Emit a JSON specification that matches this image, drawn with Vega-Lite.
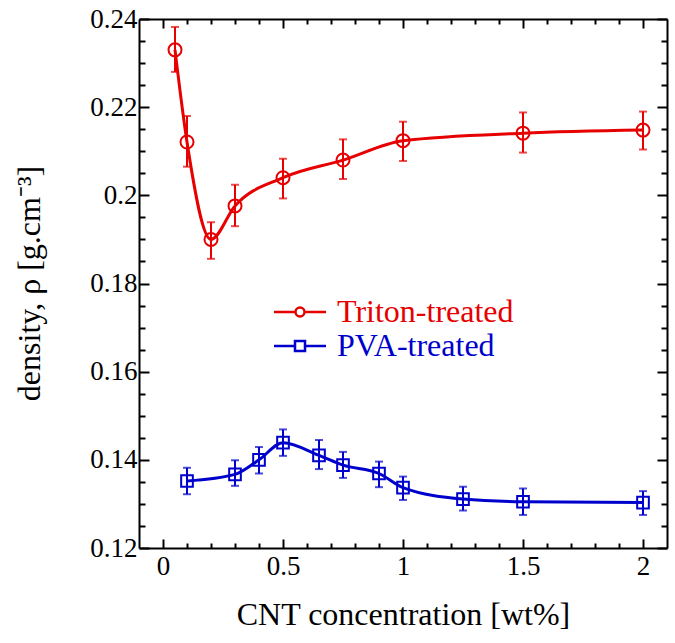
{
  "$schema": "https://vega.github.io/schema/vega-lite/v6.json",
  "width": 528,
  "height": 529,
  "autosize": "none",
  "padding": {"left": 139, "top": 19, "right": 8, "bottom": 95},
  "background": "white",
  "config": {
    "view": {"stroke": null},
    "font": "Liberation Serif",
    "axis": {
      "grid": false,
      "domainColor": "black",
      "domainWidth": 2,
      "tickColor": "black",
      "tickWidth": 2,
      "labelColor": "black",
      "labelFont": "Liberation Serif",
      "labelFontSize": 27,
      "labelFlush": false,
      "labelOverlap": false,
      "titleFont": "Liberation Serif",
      "titleFontSize": 32,
      "titleFontWeight": "normal",
      "titleColor": "black"
    },
    "legend": {"labelFont": "Liberation Serif"}
  },
  "datasets": {
    "pts": [
      {"series": "Triton-treated", "x": 0.05, "y": 0.2330, "lo": 0.2280, "hi": 0.2382},
      {"series": "Triton-treated", "x": 0.1, "y": 0.2121, "lo": 0.2065, "hi": 0.2180},
      {"series": "Triton-treated", "x": 0.2, "y": 0.1900, "lo": 0.1856, "hi": 0.1939},
      {"series": "Triton-treated", "x": 0.3, "y": 0.1976, "lo": 0.1930, "hi": 0.2024},
      {"series": "Triton-treated", "x": 0.5, "y": 0.2040, "lo": 0.1993, "hi": 0.2083},
      {"series": "Triton-treated", "x": 0.75, "y": 0.2080, "lo": 0.2037, "hi": 0.2127},
      {"series": "Triton-treated", "x": 1.0, "y": 0.2124, "lo": 0.2078, "hi": 0.2167},
      {"series": "Triton-treated", "x": 1.5, "y": 0.2141, "lo": 0.2097, "hi": 0.2188},
      {"series": "Triton-treated", "x": 2.0, "y": 0.2148, "lo": 0.2104, "hi": 0.2190},
      {"series": "PVA-treated", "x": 0.1, "y": 0.1352, "lo": 0.1322, "hi": 0.1382},
      {"series": "PVA-treated", "x": 0.3, "y": 0.1367, "lo": 0.1341, "hi": 0.1399},
      {"series": "PVA-treated", "x": 0.4, "y": 0.1400, "lo": 0.1369, "hi": 0.1429},
      {"series": "PVA-treated", "x": 0.5, "y": 0.1439, "lo": 0.1409, "hi": 0.1469},
      {"series": "PVA-treated", "x": 0.65, "y": 0.1410, "lo": 0.1379, "hi": 0.1445},
      {"series": "PVA-treated", "x": 0.75, "y": 0.1388, "lo": 0.1359, "hi": 0.1418},
      {"series": "PVA-treated", "x": 0.9, "y": 0.1369, "lo": 0.1338, "hi": 0.1396},
      {"series": "PVA-treated", "x": 1.0, "y": 0.1337, "lo": 0.1309, "hi": 0.1362},
      {"series": "PVA-treated", "x": 1.25, "y": 0.1311, "lo": 0.1285, "hi": 0.1339},
      {"series": "PVA-treated", "x": 1.5, "y": 0.1305, "lo": 0.1275, "hi": 0.1335},
      {"series": "PVA-treated", "x": 2.0, "y": 0.1303, "lo": 0.1275, "hi": 0.1329}
    ]
  },
  "data": {"name": "pts"},
  "resolve": {"axis": {"x": "independent", "y": "independent"}},
  "layer": [
    {
      "mark": {"type": "line", "interpolate": "monotone", "strokeWidth": 3},
      "encoding": {
        "x": {
          "field": "x", "type": "quantitative",
          "scale": {"domain": [-0.1, 2.1], "nice": false, "zero": false},
          "axis": {
            "orient": "bottom",
            "values": [0, 0.1, 0.2, 0.3, 0.4, 0.5, 0.6, 0.7, 0.8, 0.9, 1, 1.1, 1.2, 1.3, 1.4, 1.5, 1.6, 1.7, 1.8, 1.9, 2],
            "labelExpr": "abs(datum.value*2 - round(datum.value*2)) < 0.001 ? format(datum.value, '~g') : ''",
            "labelFont": "Liberation Serif",
            "tickSize": {"condition": {"test": "abs(datum.value*2 - round(datum.value*2)) < 0.001", "value": -9}, "value": -5},
            "labelPadding": 14,
            "title": "CNT concentration [wt%]",
            "titleX": 264,
            "titleY": 76,
            "titleBaseline": "alphabetic"
          }
        },
        "y": {
          "field": "y", "type": "quantitative",
          "scale": {"domain": [0.12, 0.24], "nice": false, "zero": false},
          "axis": {
            "orient": "left",
            "values": [0.12, 0.125, 0.13, 0.135, 0.14, 0.145, 0.15, 0.155, 0.16, 0.165, 0.17, 0.175, 0.18, 0.185, 0.19, 0.195, 0.2, 0.205, 0.21, 0.215, 0.22, 0.225, 0.23, 0.235, 0.24],
            "labelExpr": "abs(datum.value*50 - round(datum.value*50)) < 0.001 ? format(datum.value, '~g') : ''",
            "labelFont": "Liberation Serif",
            "tickSize": {"condition": {"test": "abs(datum.value*50 - round(datum.value*50)) < 0.001", "value": -10}, "value": -6},
            "labelPadding": 12,
            "title": "density, ρ [g.cm⁻³]",
            "titleAngle": 270,
            "titleX": -110,
            "titleY": 264,
            "titleAlign": "center",
            "titleBaseline": "middle"
          }
        },
        "color": {
          "field": "series", "type": "nominal",
          "scale": {"domain": ["Triton-treated", "PVA-treated"], "range": ["#e60000", "#0000cc"]},
          "legend": {
            "orient": "none",
            "legendX": 145,
            "legendY": 277,
            "title": null,
            "padding": 0,
            "labelFont": "Liberation Serif",
            "labelFontSize": 32,
            "labelLimit": 400,
            "labelOffset": 21,
            "rowPadding": 2,
            "symbolSize": 400,
            "symbolStrokeWidth": 2.5,
            "encode": {
              "symbols": {
                "update": {
                  "shape": {"signal": "datum.value === 'Triton-treated' ? 'M-2.6,0H-0.45M0.45,0H2.6M-0.45,0A0.45,0.45,0,1,1,0.45,0A0.45,0.45,0,1,1,-0.45,0' : 'M-2.6,0H-0.5M0.5,0H2.6M-0.5,-0.5H0.5V0.5H-0.5Z'"},
                  "size": {"value": 400},
                  "fill": {"value": "transparent"},
                  "fillOpacity": {"value": 0},
                  "strokeWidth": {"value": 2.5},
                  "opacity": {"value": 1}
                }
              },
              "labels": {
                "update": {
                  "fill": {"signal": "datum.value === 'Triton-treated' ? '#e60000' : '#0000cc'"}
                }
              }
            }
          }
        }
      }
    },
    {
      "mark": {"type": "errorbar", "thickness": 2, "ticks": {"size": 8, "thickness": 2}},
      "encoding": {
        "x": {"field": "x", "type": "quantitative", "axis": null},
        "y": {"field": "lo", "type": "quantitative", "axis": null},
        "y2": {"field": "hi"},
        "color": {"field": "series", "type": "nominal"}
      }
    },
    {
      "transform": [{"filter": "datum.series === 'Triton-treated'"}],
      "mark": {"type": "point", "shape": "circle", "filled": false, "strokeWidth": 2, "opacity": 1, "size": 169},
      "encoding": {
        "x": {
          "field": "x", "type": "quantitative",
          "axis": {
            "orient": "top",
            "values": [0, 0.1, 0.2, 0.3, 0.4, 0.5, 0.6, 0.7, 0.8, 0.9, 1, 1.1, 1.2, 1.3, 1.4, 1.5, 1.6, 1.7, 1.8, 1.9, 2],
            "labels": false,
            "title": null,
            "tickSize": {"condition": {"test": "abs(datum.value*2 - round(datum.value*2)) < 0.001", "value": -9}, "value": -5}
          }
        },
        "y": {
          "field": "y", "type": "quantitative",
          "axis": {
            "orient": "right",
            "values": [0.12, 0.125, 0.13, 0.135, 0.14, 0.145, 0.15, 0.155, 0.16, 0.165, 0.17, 0.175, 0.18, 0.185, 0.19, 0.195, 0.2, 0.205, 0.21, 0.215, 0.22, 0.225, 0.23, 0.235, 0.24],
            "labels": false,
            "title": null,
            "tickSize": {"condition": {"test": "abs(datum.value*50 - round(datum.value*50)) < 0.001", "value": -10}, "value": -6}
          }
        },
        "color": {"field": "series", "type": "nominal"}
      }
    },
    {
      "transform": [{"filter": "datum.series === 'PVA-treated'"}],
      "mark": {"type": "point", "shape": "square", "filled": false, "strokeWidth": 2, "opacity": 1, "size": 136},
      "encoding": {
        "x": {"field": "x", "type": "quantitative", "axis": null},
        "y": {"field": "y", "type": "quantitative", "axis": null},
        "color": {"field": "series", "type": "nominal"}
      }
    }
  ]
}
